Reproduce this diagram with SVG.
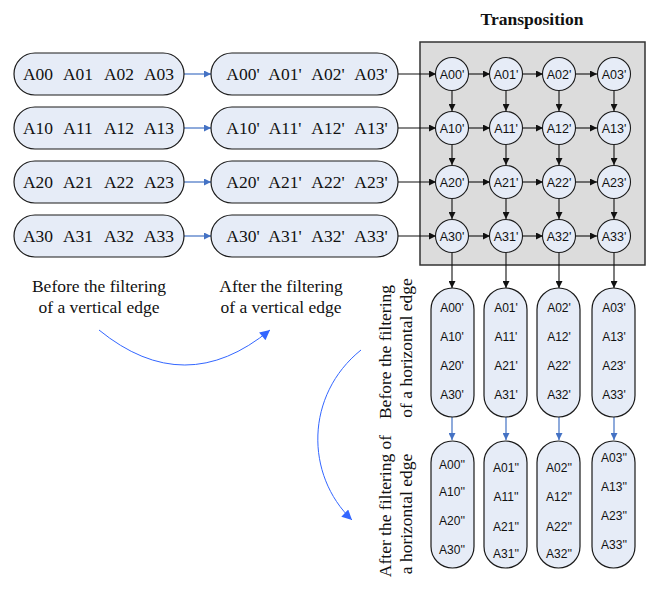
<svg xmlns="http://www.w3.org/2000/svg" width="648" height="594" viewBox="0 0 648 594">
  <style>
    .pill { fill: #E6ECF7; stroke: #1a1a1a; stroke-width: 1.2; }
    .circ { fill: #E6ECF7; stroke: #1a1a1a; stroke-width: 1.1; }
    .box { fill: #DCDCDC; stroke: #333; stroke-width: 1.5; }
    .serif { font-family: "Liberation Serif", "Times New Roman", serif; fill: #111; }
    .sans { font-family: "Liberation Sans", Arial, sans-serif; fill: #111; }
    .tok { font-size: 17.5px; text-anchor: middle; }
    .ctext { font-size: 12.5px; text-anchor: middle; }
    .vtext { font-size: 12px; text-anchor: middle; }
    .lbl { font-size: 17.5px; text-anchor: middle; }
    .blk { stroke: #111; stroke-width: 1.1; fill: none; marker-end: url(#ahBlack); }
    .blu { stroke: #4472C4; stroke-width: 1.2; fill: none; marker-end: url(#ahBlue); }
    .curve { stroke: #3366FF; stroke-width: 1; fill: none; marker-end: url(#ahCurve); }
  </style>
  <defs>
    <marker id="ahBlack" viewBox="0 0 10 10" refX="10" refY="5" markerWidth="7" markerHeight="7" markerUnits="userSpaceOnUse" orient="auto">
      <path d="M0,0 L10,5 L0,10 Z" fill="#111"/>
    </marker>
    <marker id="ahBlue" viewBox="0 0 10 10" refX="10" refY="5" markerWidth="7" markerHeight="7" markerUnits="userSpaceOnUse" orient="auto">
      <path d="M0,0 L10,5 L0,10 Z" fill="#4472C4"/>
    </marker>
    <marker id="ahCurve" viewBox="0 0 10 10" refX="10" refY="5" markerWidth="11" markerHeight="10" markerUnits="userSpaceOnUse" orient="auto">
      <path d="M0,0 L10,5 L0,10 Z" fill="#3366FF"/>
    </marker>
  </defs>

  <rect width="648" height="594" fill="#fff"/>

  <!-- title -->
  <text class="serif" x="532" y="25" font-size="17.5" font-weight="bold" text-anchor="middle">Transposition</text>

  <!-- transposition frame -->
  <g id="transposeBox">
    <rect class="box" x="420" y="42" width="225" height="223"/>
  </g>

  <!-- connectors -->
  <g id="connectors">
    <!-- source rows to filtered rows -->
    <line class="blu" x1="184" y1="74" x2="211" y2="74"/>
    <line class="blu" x1="184" y1="128" x2="211" y2="128"/>
    <line class="blu" x1="184" y1="182" x2="211" y2="182"/>
    <line class="blu" x1="184" y1="236" x2="211" y2="236"/>
    <!-- filtered rows into grid -->
    <line class="blk" x1="398" y1="74" x2="436" y2="74"/>
    <line class="blk" x1="398" y1="128" x2="436" y2="128"/>
    <line class="blk" x1="398" y1="182" x2="436" y2="182"/>
    <line class="blk" x1="398" y1="236" x2="436" y2="236"/>
    <!-- grid horizontal -->
    <line class="blk" x1="469" y1="74" x2="490" y2="74"/>
    <line class="blk" x1="523" y1="74" x2="543" y2="74"/>
    <line class="blk" x1="576" y1="74" x2="597" y2="74"/>
    <line class="blk" x1="469" y1="128" x2="490" y2="128"/>
    <line class="blk" x1="523" y1="128" x2="543" y2="128"/>
    <line class="blk" x1="576" y1="128" x2="597" y2="128"/>
    <line class="blk" x1="469" y1="182" x2="490" y2="182"/>
    <line class="blk" x1="523" y1="182" x2="543" y2="182"/>
    <line class="blk" x1="576" y1="182" x2="597" y2="182"/>
    <line class="blk" x1="469" y1="236" x2="490" y2="236"/>
    <line class="blk" x1="523" y1="236" x2="543" y2="236"/>
    <line class="blk" x1="576" y1="236" x2="597" y2="236"/>
    <!-- grid vertical -->
    <line class="blk" x1="452" y1="91" x2="452" y2="111"/>
    <line class="blk" x1="506" y1="91" x2="506" y2="111"/>
    <line class="blk" x1="559" y1="91" x2="559" y2="111"/>
    <line class="blk" x1="614" y1="91" x2="614" y2="111"/>
    <line class="blk" x1="452" y1="145" x2="452" y2="165"/>
    <line class="blk" x1="506" y1="145" x2="506" y2="165"/>
    <line class="blk" x1="559" y1="145" x2="559" y2="165"/>
    <line class="blk" x1="614" y1="145" x2="614" y2="165"/>
    <line class="blk" x1="452" y1="199" x2="452" y2="219"/>
    <line class="blk" x1="506" y1="199" x2="506" y2="219"/>
    <line class="blk" x1="559" y1="199" x2="559" y2="219"/>
    <line class="blk" x1="614" y1="199" x2="614" y2="219"/>
    <!-- grid to columns -->
    <line class="blk" x1="452" y1="253" x2="452" y2="288"/>
    <line class="blk" x1="506" y1="253" x2="506" y2="288"/>
    <line class="blk" x1="559" y1="253" x2="559" y2="288"/>
    <line class="blk" x1="614" y1="253" x2="614" y2="288"/>
    <!-- columns to filtered columns -->
    <line class="blu" x1="452" y1="417" x2="452" y2="440"/>
    <line class="blu" x1="506" y1="417" x2="506" y2="440"/>
    <line class="blu" x1="559" y1="417" x2="559" y2="440"/>
    <line class="blu" x1="614" y1="417" x2="614" y2="440"/>
    <!-- flow curves -->
    <path class="curve" d="M99 330 Q185 400 270 330"/>
    <path class="curve" d="M361 350 C305 395 305 475 352 520"/>
  </g>

  <!-- source rows -->
  <g id="row0">
    <rect class="pill" x="14" y="53" width="170" height="42" rx="21"/>
    <g class="serif tok"><text x="38" y="80">A00</text><text x="78" y="80">A01</text><text x="119" y="80">A02</text><text x="159" y="80">A03</text></g>
  </g>
  <g id="row1">
    <rect class="pill" x="14" y="107" width="170" height="42" rx="21"/>
    <g class="serif tok"><text x="38" y="134">A10</text><text x="78" y="134">A11</text><text x="119" y="134">A12</text><text x="159" y="134">A13</text></g>
  </g>
  <g id="row2">
    <rect class="pill" x="14" y="161" width="170" height="42" rx="21"/>
    <g class="serif tok"><text x="38" y="188">A20</text><text x="78" y="188">A21</text><text x="119" y="188">A22</text><text x="159" y="188">A23</text></g>
  </g>
  <g id="row3">
    <rect class="pill" x="14" y="215" width="170" height="42" rx="21"/>
    <g class="serif tok"><text x="38" y="242">A30</text><text x="78" y="242">A31</text><text x="119" y="242">A32</text><text x="159" y="242">A33</text></g>
  </g>

  <!-- rows after vertical edge filtering -->
  <g id="rowF0">
    <rect class="pill" x="211" y="53" width="187" height="42" rx="21"/>
    <g class="serif tok"><text x="243" y="80">A00'</text><text x="285" y="80">A01'</text><text x="328" y="80">A02'</text><text x="371" y="80">A03'</text></g>
  </g>
  <g id="rowF1">
    <rect class="pill" x="211" y="107" width="187" height="42" rx="21"/>
    <g class="serif tok"><text x="243" y="134">A10'</text><text x="285" y="134">A11'</text><text x="328" y="134">A12'</text><text x="371" y="134">A13'</text></g>
  </g>
  <g id="rowF2">
    <rect class="pill" x="211" y="161" width="187" height="42" rx="21"/>
    <g class="serif tok"><text x="243" y="188">A20'</text><text x="285" y="188">A21'</text><text x="328" y="188">A22'</text><text x="371" y="188">A23'</text></g>
  </g>
  <g id="rowF3">
    <rect class="pill" x="211" y="215" width="187" height="42" rx="21"/>
    <g class="serif tok"><text x="243" y="242">A30'</text><text x="285" y="242">A31'</text><text x="328" y="242">A32'</text><text x="371" y="242">A33'</text></g>
  </g>

  <!-- transposition grid cells -->
  <g id="c00"><circle class="circ" cx="452" cy="74" r="16.5"/><text class="sans ctext" x="452" y="78.5">A00'</text></g>
  <g id="c01"><circle class="circ" cx="506" cy="74" r="16.5"/><text class="sans ctext" x="506" y="78.5">A01'</text></g>
  <g id="c02"><circle class="circ" cx="559" cy="74" r="16.5"/><text class="sans ctext" x="559" y="78.5">A02'</text></g>
  <g id="c03"><circle class="circ" cx="614" cy="74" r="16.5"/><text class="sans ctext" x="614" y="78.5">A03'</text></g>
  <g id="c10"><circle class="circ" cx="452" cy="128" r="16.5"/><text class="sans ctext" x="452" y="132.5">A10'</text></g>
  <g id="c11"><circle class="circ" cx="506" cy="128" r="16.5"/><text class="sans ctext" x="506" y="132.5">A11'</text></g>
  <g id="c12"><circle class="circ" cx="559" cy="128" r="16.5"/><text class="sans ctext" x="559" y="132.5">A12'</text></g>
  <g id="c13"><circle class="circ" cx="614" cy="128" r="16.5"/><text class="sans ctext" x="614" y="132.5">A13'</text></g>
  <g id="c20"><circle class="circ" cx="452" cy="182" r="16.5"/><text class="sans ctext" x="452" y="186.5">A20'</text></g>
  <g id="c21"><circle class="circ" cx="506" cy="182" r="16.5"/><text class="sans ctext" x="506" y="186.5">A21'</text></g>
  <g id="c22"><circle class="circ" cx="559" cy="182" r="16.5"/><text class="sans ctext" x="559" y="186.5">A22'</text></g>
  <g id="c23"><circle class="circ" cx="614" cy="182" r="16.5"/><text class="sans ctext" x="614" y="186.5">A23'</text></g>
  <g id="c30"><circle class="circ" cx="452" cy="236" r="16.5"/><text class="sans ctext" x="452" y="240.5">A30'</text></g>
  <g id="c31"><circle class="circ" cx="506" cy="236" r="16.5"/><text class="sans ctext" x="506" y="240.5">A31'</text></g>
  <g id="c32"><circle class="circ" cx="559" cy="236" r="16.5"/><text class="sans ctext" x="559" y="240.5">A32'</text></g>
  <g id="c33"><circle class="circ" cx="614" cy="236" r="16.5"/><text class="sans ctext" x="614" y="240.5">A33'</text></g>

  <!-- columns before horizontal edge filtering -->
  <g id="col0">
    <rect class="pill" x="431" y="288" width="43" height="129" rx="21.5"/>
    <g class="sans vtext"><text x="452" y="312">A00'</text><text x="452" y="341">A10'</text><text x="452" y="370">A20'</text><text x="452" y="399">A30'</text></g>
  </g>
  <g id="col1">
    <rect class="pill" x="484" y="288" width="43" height="129" rx="21.5"/>
    <g class="sans vtext"><text x="506" y="312">A01'</text><text x="506" y="341">A11'</text><text x="506" y="370">A21'</text><text x="506" y="399">A31'</text></g>
  </g>
  <g id="col2">
    <rect class="pill" x="537" y="288" width="43" height="129" rx="21.5"/>
    <g class="sans vtext"><text x="559" y="312">A02'</text><text x="559" y="341">A12'</text><text x="559" y="370">A22'</text><text x="559" y="399">A32'</text></g>
  </g>
  <g id="col3">
    <rect class="pill" x="592" y="288" width="43" height="129" rx="21.5"/>
    <g class="sans vtext"><text x="614" y="312">A03'</text><text x="614" y="341">A13'</text><text x="614" y="370">A23'</text><text x="614" y="399">A33'</text></g>
  </g>

  <!-- columns after horizontal edge filtering -->
  <g id="colF0">
    <rect class="pill" x="431" y="441" width="43" height="127" rx="21.5"/>
    <g class="sans vtext"><text x="452" y="469">A00''</text><text x="452" y="496">A10''</text><text x="452" y="525">A20''</text><text x="452" y="554">A30''</text></g>
  </g>
  <g id="colF1">
    <rect class="pill" x="484" y="441" width="43" height="127" rx="21.5"/>
    <g class="sans vtext"><text x="506" y="472">A01''</text><text x="506" y="501">A11''</text><text x="506" y="531">A21''</text><text x="506" y="558">A31''</text></g>
  </g>
  <g id="colF2">
    <rect class="pill" x="537" y="441" width="43" height="127" rx="21.5"/>
    <g class="sans vtext"><text x="559" y="472">A02''</text><text x="559" y="501">A12''</text><text x="559" y="531">A22''</text><text x="559" y="558">A32''</text></g>
  </g>
  <g id="colF3">
    <rect class="pill" x="592" y="441" width="43" height="127" rx="21.5"/>
    <g class="sans vtext"><text x="614" y="462">A03''</text><text x="614" y="491">A13''</text><text x="614" y="520">A23''</text><text x="614" y="549">A33''</text></g>
  </g>

  <!-- stage captions -->
  <g class="serif lbl">
    <text x="99" y="292">Before the filtering</text>
    <text x="99" y="313">of a vertical edge</text>
    <text x="281" y="292">After the filtering</text>
    <text x="281" y="313">of a vertical edge</text>
    <text transform="translate(391 352) rotate(-90)">Before the filtering</text>
    <text transform="translate(412 348) rotate(-90)">of a horizontal edge</text>
    <text transform="translate(391 506) rotate(-90)">After the filtering of</text>
    <text transform="translate(412 514) rotate(-90)">a horizontal edge</text>
  </g>
</svg>
